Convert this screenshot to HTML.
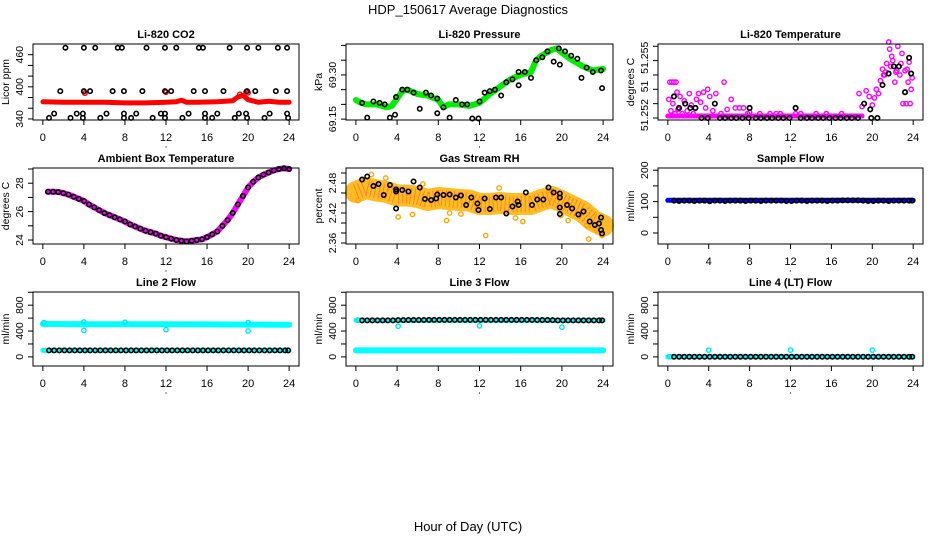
<!DOCTYPE html>
<html><head><meta charset="utf-8"><style>
html,body{margin:0;padding:0;background:#fff;}
svg{display:block;font-family:"Liberation Sans",sans-serif;}
</style></head><body>
<svg id="chart" width="936" height="540" viewBox="0 0 936 540" xmlns="http://www.w3.org/2000/svg">
<text x="468" y="14" text-anchor="middle" font-size="13">HDP_150617  Average Diagnostics</text>
<text x="468" y="531" text-anchor="middle" font-size="13">Hour of Day (UTC)</text>
</svg>
<script>
// ---------- data ----------
const xTickValues = [0,4,8,12,16,20,24];
const co2BlackHours = [2.2,4,5.1,7.3,7.7,10.1,11.9,13,15.2,15.6,18.2,19.9,21,22.9,23.8, 1.7,4,4.6,6.8,7.9,9.7,11.9,12.5,14.7,15.8,17.6,19.9,20.7,22.7,23.8, 1.1,3.3,3.9,6.2,7.9,9.1,11.5,11.9,14.2,15.8,17,19.1,19.8,22.1,23.8, 0.6,2.7,3.9,5.6,7.9,8.6,10.7,11.9,13.6,15.8,16.5,18.7,19.9,21.6,23.9];
const co2BlackValues = [473,473,473,473,473,473,473,473,473,473,473,473,473,473,473, 392,392,392,392,392,392,392,392,392,392,392,392,392,392,392, 350,350,350,350,350,350,350,350,350,350,350,350,350,350,350, 342,342,342,342,342,342,342,342,342,342,342,342,342,342,342];
const co2RedHours = [0,2,4,6,8,10,12,13,13.5,14,15,17,18.5,19,19.5,20,21,22,23,24];
const co2RedValues = [372,371,371,371,370,370,371,372,375,371,371,372,374,381,384,376,371,373,371,371];
const co2RedOutHours = [4,12,19.2,19.8,20,4.1];
const co2RedOutValues = [391,390,386,391,389,388];

const presGreenHours = [0,0.5,1,2,3,3.5,4,4.5,5,6,7,8,8.5,9,10,11,12,13,14,15,16,17,17.5,18,19,19.5,20,21,22,23,24];
const presGreenValues = [69.215,69.205,69.2,69.2,69.19,69.195,69.22,69.245,69.25,69.235,69.23,69.215,69.19,69.2,69.2,69.195,69.205,69.235,69.26,69.285,69.3,69.31,69.35,69.365,69.385,69.39,69.375,69.35,69.33,69.315,69.32];
const presBlackHours = [0.6,1.1,1.7,2.3,2.8,3.3,3.9,3.8,4.5,5,5.6,6.2,6.8,7.3,7.9,7.9,8.5,9.1,9.7,10.3,10.8,11.3,11.9,12,12.5,13,13.5,14.1,14.6,15.2,15.8,15.8,16.4,17,17.5,18.1,18.6,19.2,19.7,19.8,20.3,20.9,21.5,21.9,22.4,23,23.8,23.9];
const presBlackValues = [69.205,69.155,69.21,69.205,69.2,69.155,69.225,69.165,69.25,69.25,69.24,69.185,69.24,69.23,69.22,69.17,69.19,69.155,69.215,69.2,69.2,69.152,69.152,69.21,69.24,69.245,69.25,69.23,69.275,69.285,69.31,69.265,69.31,69.29,69.35,69.36,69.38,69.345,69.39,69.335,69.38,69.365,69.355,69.29,69.325,69.31,69.315,69.255];

const tempBaseHours = [0,19];
const tempBaseValues = [51.25207,51.25207];
const tempMagHours = [0.1,0.2,0.4,0.6,0.8,0.9,0.3,0.5,0.7,1,1.2,1.4,1.6,1.9,2.1,2.3,2.5,2.8,3,3.2,3.5,3.7,3.9,4.1,4.4,4.7,5.2,5.5,5.8,6.2,6.6,7,7.4,7.8,8,9,10,10.6,11,12.5,13,14.5,15.5,17,18.7,19,19.4,19.7,20,20.2,20.4,20.6,20.8,21,21.2,21.4,21.6,21.7,21.9,22,22.2,22.4,22.5,22.7,22.9,23,23.2,23.3,23.5,23.6,23.8,23.9,23.7,21.3,21.8,22.3,22.8,23.4,21.1];
const tempMagValues = [51.25265,51.25325,51.25325,51.25325,51.25325,51.2529,51.25225,51.2525,51.25215,51.2523,51.25275,51.25215,51.2526,51.25225,51.25285,51.25245,51.25215,51.25265,51.25285,51.25255,51.2529,51.25235,51.253,51.25275,51.25225,51.25285,51.25215,51.25325,51.2523,51.25265,51.25235,51.25235,51.25235,51.25215,51.2522,51.25215,51.25215,51.25215,51.25215,51.25215,51.25215,51.25215,51.25215,51.25215,51.25285,51.2524,51.25295,51.25275,51.25245,51.2527,51.253,51.25285,51.2533,51.2537,51.2535,51.2539,51.25465,51.2544,51.25415,51.254,51.25325,51.25365,51.2545,51.2535,51.25425,51.2525,51.25365,51.2525,51.25325,51.25395,51.253,51.2534,51.2525,51.2536,51.2538,51.2536,51.2539,51.2537,51.2535];
const tempBlackHours = [0.6,1.1,1.7,2.2,2.7,3.3,3.9,4.6,5.1,5.6,6.2,6.7,7.3,7.9,8,8.6,9.1,9.7,10.2,10.8,11.3,11.9,12.5,13,13.6,14.1,14.7,15.2,15.8,16.4,16.9,17.5,18,18.6,19.2,19.8,19.9,20.5,21,21.6,22.1,22.6,23.2,23.6,23.8];
const tempBlackValues = [51.25275,51.25235,51.2525,51.25235,51.25235,51.252,51.252,51.2525,51.252,51.252,51.252,51.252,51.252,51.252,51.25235,51.252,51.252,51.252,51.252,51.252,51.252,51.252,51.25235,51.252,51.252,51.252,51.252,51.252,51.252,51.252,51.252,51.252,51.252,51.252,51.2525,51.2523,51.252,51.252,51.25315,51.25355,51.2538,51.2538,51.2529,51.2541,51.25355];

const ambHours = [0.5,1,1.5,2,2.5,3,3.5,4,4.5,5,5.5,6,6.5,7,7.5,8,8.5,9,9.5,10,10.5,11,11.5,12,12.5,13,13.5,14,14.5,15,15.5,16,16.5,17,17.5,18,18.5,19,19.5,20,20.5,21,21.5,22,22.5,23,23.5,24];
const ambValues = [27.4,27.4,27.38,27.3,27.2,27.05,26.9,26.75,26.5,26.3,26.1,25.9,25.75,25.6,25.45,25.3,25.1,24.95,24.8,24.65,24.55,24.45,24.3,24.2,24.1,24.0,23.95,23.9,23.95,24.0,24.05,24.2,24.4,24.6,25.0,25.4,25.9,26.5,27.1,27.7,28.1,28.4,28.6,28.75,28.9,29.0,29.05,29.0];

const rhBandHours = [0,1,2,3,4,5,6,7,8,9,10,11,12,13,14,15,16,17,18,19,20,21,22,23,24];
const rhBandValues = [2.462,2.47,2.465,2.462,2.455,2.455,2.452,2.446,2.45,2.448,2.446,2.445,2.438,2.438,2.44,2.438,2.438,2.438,2.446,2.452,2.443,2.433,2.423,2.405,2.395];
const rhOrangeOutHours = [0.2,1.5,4.1,5.5,9.1,10.2,12.6,15.5,16.2,20.6,22.4,22.6,23.4,23.9,8.8,19.9,2.9,6.5,13.9,18.7];
const rhOrangeOutValues = [2.445,2.497,2.412,2.417,2.42,2.418,2.375,2.41,2.403,2.405,2.395,2.368,2.385,2.375,2.405,2.415,2.49,2.478,2.47,2.465];
const rhBlackHours = [0.6,1.1,1.7,2.2,2.7,3.3,3.9,3.9,3.9,4.5,5.1,5.6,6.2,6.7,7.3,7.8,7.9,8.5,9.1,9.7,10.2,10.7,11.2,11.8,11.9,12.5,13,13.6,14.1,14.6,15.2,15.7,15.8,16.5,17.1,17.6,18.2,18.7,19.2,19.8,19.8,19.8,19.8,20.5,21,21.6,22.1,22.7,23.2,23.6,23.8,23.8,23.9];
const rhBlackValues = [2.487,2.493,2.474,2.478,2.456,2.476,2.467,2.463,2.429,2.466,2.463,2.483,2.471,2.448,2.446,2.449,2.457,2.456,2.457,2.451,2.455,2.436,2.451,2.439,2.426,2.449,2.428,2.451,2.451,2.419,2.433,2.443,2.436,2.461,2.436,2.447,2.447,2.471,2.461,2.459,2.451,2.431,2.418,2.436,2.429,2.417,2.423,2.403,2.396,2.399,2.411,2.386,2.379];

const flowHours = [0.6,1.1,1.6,2.1,2.6,3.1,3.6,4.1,4.6,5.1,5.6,6.1,6.6,7.1,7.6,8.1,8.6,9.1,9.6,10.1,10.6,11.1,11.6,12.1,12.6,13.1,13.6,14.1,14.6,15.1,15.6,16.1,16.6,17.1,17.6,18.1,18.6,19.1,19.6,20.1,20.6,21.1,21.6,22.1,22.6,23.1,23.6,23.9];
const sampleValues = [103,102,103,103,102,103,103,101,103,103,102,103,103,103,102,103,103,102,103,103,103,103,102,102,103,103,102,103,103,103,102,103,103,104,104,104,104,103,102,102,103,103,102,103,103,103,103,103];
const sampleBlueHours = [0,24];
const sampleBlueValues = [104,104];
const line2BlackValues = [100,100,100,100,100,100,100,100,100,100,100,100,100,100,100,100,100,100,100,100,100,100,100,100,100,100,100,100,100,100,100,100,100,100,100,100,100,100,100,100,100,100,100,100,100,100,100,100];
const line2CyanHours = [0,4,8,12,16,20,24];
const line2CyanValues = [510,505,505,505,502,500,498];
const line2CyanLowHours = [0,24];
const line2CyanLowValues = [100,100];
const line2CyanOutHours = [0.1,4,4,8,12,20,20];
const line2CyanOutValues = [530,540,410,535,420,530,400];
const line3BlackValues = [565,565,565,565,565,565,565,568,568,570,570,570,570,572,572,572,572,572,572,572,572,572,572,572,572,572,572,572,572,572,572,572,572,572,570,570,570,568,565,565,565,565,565,565,565,565,565,565];
const line3CyanHours = [0,24];
const line3CyanValues = [100,100];
const line3CyanOutHours = [0.2,4.1,12,20];
const line3CyanOutValues = [570,475,480,460];
const line4BlackValues = [2,2,2,2,2,2,2,2,2,2,2,2,2,2,2,2,2,2,2,2,2,2,2,2,2,2,2,2,2,2,2,2,2,2,2,2,2,2,2,2,2,2,2,2,2,2,2,2];
const line4CyanHours = [0,24];
const line4CyanValues = [2,2];
const line4CyanOutHours = [0.2,4,12,20];
const line4CyanOutValues = [2,105,105,105];

// ---------- drawing ----------
const svg = document.getElementById('chart');
const NS = 'http://www.w3.org/2000/svg';
function mk(tag, attrs, parent){
  const e = document.createElementNS(NS, tag);
  for (const k in attrs) e.setAttribute(k, attrs[k]);
  (parent||svg).appendChild(e);
  return e;
}
function panel(cfg){
  const g = mk('g', {});
  
  
  const {l,r,t,b} = cfg.box;
  const xs = h => l + (h + 0.96) / 25.92 * (r - l);
  const ys = v => b - (v - cfg.ylim[0]) / (cfg.ylim[1] - cfg.ylim[0]) * (b - t);
  cfg.draw(g, xs, ys);
  const box = mk('rect', {x:l, y:t, width:r-l, height:b-t, fill:'none', stroke:'#000', 'stroke-width':1}, g);
  
  
  const title = mk('text', {x:(l+r)/2, y:t-6, 'text-anchor':'middle', 'font-size':11, 'font-weight':'bold'}, g);
  title.textContent = cfg.title;
  
  
  const xaxis = mk('g', {}, g);
  
  
  mk('line', {x1:xs(0), x2:xs(24), y1:b, y2:b, stroke:'#000'}, xaxis);
  xTickValues.forEach(v => {
    mk('line', {x1:xs(v), x2:xs(v), y1:b, y2:b+5, stroke:'#000'}, xaxis);
    const tx = mk('text', {x:xs(v), y:b+21, 'text-anchor':'middle', 'font-size':11}, xaxis);
    tx.textContent = v;
    
    
  });
  mk('circle', {cx:(l+r)/2, cy:b+27, r:0.6, fill:'#000'}, xaxis);
  const yaxis = mk('g', {}, g);
  
  
  const yt = cfg.yticks;
  mk('line', {x1:l, x2:l, y1:ys(yt[0]), y2:ys(yt[yt.length-1]), stroke:'#000'}, yaxis);
  yt.forEach(v => mk('line', {x1:l-5, x2:l, y1:ys(v), y2:ys(v), stroke:'#000'}, yaxis));
  cfg.ylabels.forEach((lab, i) => {
    const yy = ys(cfg.ylabelVals[i]);
    const tx = mk('text', {x:l-10, y:yy, 'text-anchor':'middle', 'font-size':10.5, transform:`rotate(-90 ${l-10} ${yy})`}, yaxis);
    tx.textContent = lab;
    
    
  });
  const yy = (t+b)/2;
  const yl = mk('text', {x:l-24, y:yy, 'text-anchor':'middle', 'font-size':10.5, transform:`rotate(-90 ${l-24} ${yy})`}, yaxis);
  yl.textContent = cfg.ylab;
  
  
}
function band(g, xs, ys, hs, vs, color, w, name, extra){
  const d = hs.map((h,i)=>(i?'L':'M')+xs(h).toFixed(1)+' '+ys(vs[i]).toFixed(1)).join(' ');
  const p = mk('path', Object.assign({d, fill:'none', stroke:color, 'stroke-width':w, 'stroke-linejoin':'round', 'stroke-linecap':'round'}, extra||{}), g);
  
  
  return p;
}
function pts(g, xs, ys, hs, vs, color, name, sw){
  const grp = mk('g', {}, g);
  
  
  hs.forEach((h,i) => {
    const c = mk('circle', {cx:xs(h), cy:ys(vs[i]), r:2.2, fill:'none', stroke:color, 'stroke-width':sw||1.4}, grp);
    
    
  });
}
const R1 = {t:44,b:120}, R2 = {t:168,b:244}, R3 = {t:292,b:366};
const C1 = {l:33,r:299}, C2 = {l:346,r:613}, C3 = {l:658,r:923};
const flowTicks = [0,200,400,600,800,1000];

panel({name:'co2-panel', title:'Li-820 CO2', ylab:'Licor ppm', box:{...C1,...R1}, ylim:[338,480],
  yticks:[340,360,380,400,420,440,460], ylabels:['340','400','460'], ylabelVals:[340,400,460],
  draw:(g,xs,ys)=>{
    band(g,xs,ys,co2RedHours,co2RedValues,'#ff0000',5,'co2-red-series');
    pts(g,xs,ys,co2RedOutHours,co2RedOutValues,'#ff0000','co2-red-points');
    pts(g,xs,ys,co2BlackHours,co2BlackValues,'#000','co2-black-points',1.6);
  }});
panel({name:'pressure-panel', title:'Li-820 Pressure', ylab:'kPa', box:{...C2,...R1}, ylim:[69.147,69.405],
  yticks:[69.15,69.2,69.25,69.3,69.35,69.4], ylabels:['69.15','69.30'], ylabelVals:[69.15,69.3],
  draw:(g,xs,ys)=>{
    band(g,xs,ys,presGreenHours,presGreenValues,'#00ee00',6,'pressure-green-series');
    pts(g,xs,ys,presBlackHours,presBlackValues,'#000','pressure-black-points',1.6);
  }});
panel({name:'temperature-panel', title:'Li-820 Temperature', ylab:'degrees C', box:{...C3,...R1}, ylim:[51.25193,51.25458],
  yticks:[51.252,51.2525,51.253,51.2535,51.254,51.2545], ylabels:['51.252','51','51.255'], ylabelVals:[51.2521,51.2531,51.2541],
  draw:(g,xs,ys)=>{
    band(g,xs,ys,tempBaseHours,tempBaseValues,'#ff00ff',5,'temperature-magenta-base');
    pts(g,xs,ys,tempMagHours,tempMagValues,'#ff00ff','temperature-magenta-points');
    pts(g,xs,ys,tempBlackHours,tempBlackValues,'#000','temperature-black-points',1.7);
  }});
panel({name:'ambient-panel', title:'Ambient Box Temperature', ylab:'degrees C', box:{...C1,...R2}, ylim:[23.72,29.07],
  yticks:[24,25,26,27,28,29], ylabels:['24','26','28'], ylabelVals:[24,26,28],
  draw:(g,xs,ys)=>{
    band(g,xs,ys,ambHours,ambValues,'#ff00ff',6,'ambient-magenta-series');
    pts(g,xs,ys,ambHours,ambValues,'#000','ambient-black-points',1.6);
  }});
panel({name:'rh-panel', title:'Gas Stream RH', ylab:'percent', box:{...C2,...R2}, ylim:[2.358,2.510],
  yticks:[2.36,2.38,2.40,2.42,2.44,2.46,2.48,2.50], ylabels:['2.36','2.42','2.48'], ylabelVals:[2.36,2.42,2.48],
  draw:(g,xs,ys)=>{
    band(g,xs,ys,rhBandHours,rhBandValues,'#ffb000',22,'rh-orange-band',{opacity:0.85});
    band(g,xs,ys,rhBandHours,rhBandValues,'#ff2000',16,'rh-red-band',{'stroke-dasharray':'1 3',opacity:0.35,'stroke-linecap':'butt'});
    pts(g,xs,ys,rhOrangeOutHours,rhOrangeOutValues,'#ffa500','rh-orange-points');
    pts(g,xs,ys,rhBlackHours,rhBlackValues,'#000','rh-black-points',1.6);
  }});
panel({name:'sample-flow-panel', title:'Sample Flow', ylab:'ml/min', box:{...C3,...R2}, ylim:[-35,207],
  yticks:[0,50,100,150,200], ylabels:['0','100','200'], ylabelVals:[0,100,200],
  draw:(g,xs,ys)=>{
    band(g,xs,ys,sampleBlueHours,sampleBlueValues,'#0000ff',5,'sample-blue-series');
    pts(g,xs,ys,flowHours,sampleValues,'#000','sample-black-points',1.6);
  }});
panel({name:'line2-flow-panel', title:'Line 2 Flow', ylab:'ml/min', box:{...C1,...R3}, ylim:[-141,1004],
  yticks:flowTicks, ylabels:['0','400','800'], ylabelVals:[0,400,800],
  draw:(g,xs,ys)=>{
    band(g,xs,ys,line2CyanHours,line2CyanValues,'#00ffff',6,'line2-cyan-series');
    band(g,xs,ys,line2CyanLowHours,line2CyanLowValues,'#00ffff',5,'line2-cyan-low-series');
    pts(g,xs,ys,line2CyanOutHours,line2CyanOutValues,'#00e5ee','line2-cyan-points');
    pts(g,xs,ys,flowHours,line2BlackValues,'#000','line2-black-points',1.6);
  }});
panel({name:'line3-flow-panel', title:'Line 3 Flow', ylab:'ml/min', box:{...C2,...R3}, ylim:[-141,1004],
  yticks:flowTicks, ylabels:['0','400','800'], ylabelVals:[0,400,800],
  draw:(g,xs,ys)=>{
    band(g,xs,ys,line3CyanHours,line3CyanValues,'#00ffff',6,'line3-cyan-series');
    band(g,xs,ys,line3CyanHours,line3BlackValues.slice(0,2),'#00ffff',5,'line3-cyan-upper-series');
    pts(g,xs,ys,line3CyanOutHours,line3CyanOutValues,'#00e5ee','line3-cyan-points');
    pts(g,xs,ys,flowHours,line3BlackValues,'#000','line3-black-points',1.6);
  }});
panel({name:'line4-flow-panel', title:'Line 4 (LT) Flow', ylab:'ml/min', box:{...C3,...R3}, ylim:[-141,1004],
  yticks:flowTicks, ylabels:['0','400','800'], ylabelVals:[0,400,800],
  draw:(g,xs,ys)=>{
    band(g,xs,ys,line4CyanHours,line4CyanValues,'#00ffff',5,'line4-cyan-series');
    pts(g,xs,ys,line4CyanOutHours,line4CyanOutValues,'#00e5ee','line4-cyan-points');
    pts(g,xs,ys,flowHours,line4BlackValues,'#000','line4-black-points',1.6);
  }});
</script>
</body></html>
